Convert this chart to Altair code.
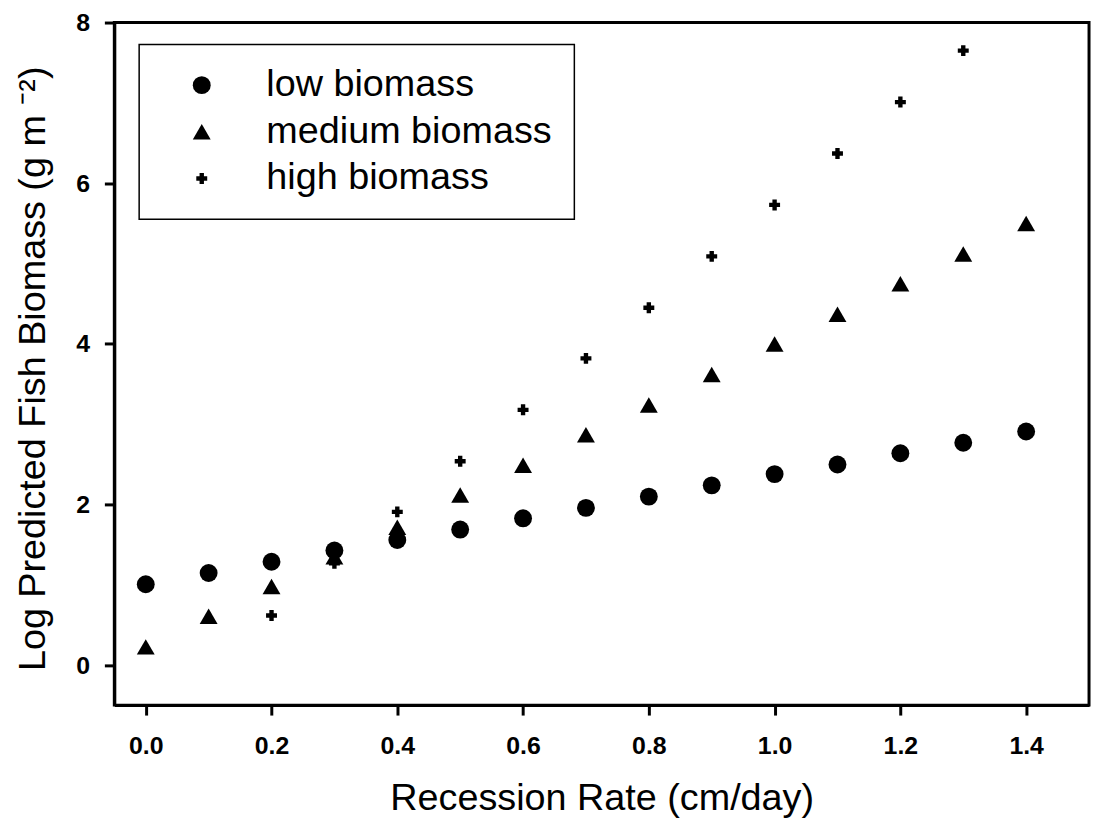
import altair as alt
import pandas as pd

rate = [0.0, 0.1, 0.2, 0.3, 0.4, 0.5, 0.6, 0.7, 0.8, 0.9, 1.0, 1.1, 1.2, 1.3, 1.4]
low = [1.01, 1.15, 1.29, 1.43, 1.56, 1.69, 1.83, 1.96, 2.10, 2.24, 2.38, 2.50, 2.64, 2.77, 2.91]
medium = [0.23, 0.61, 0.98, 1.35, 1.72, 2.12, 2.49, 2.87, 3.24, 3.62, 4.00, 4.37, 4.75, 5.12, 5.50]
high_rate = [0.2, 0.3, 0.4, 0.5, 0.6, 0.7, 0.8, 0.9, 1.0, 1.1, 1.2, 1.3]
high = [0.62, 1.27, 1.91, 2.54, 3.18, 3.82, 4.45, 5.09, 5.73, 6.37, 7.01, 7.65]

series = ["low biomass", "medium biomass", "high biomass"]
x_ticks = [0.0, 0.2, 0.4, 0.6, 0.8, 1.0, 1.2, 1.4]
y_ticks = [0, 2, 4, 6, 8]

rows = []
for r, v in zip(rate, low):
    rows.append({"rate": r, "value": v, "series": series[0]})
for r, v in zip(rate, medium):
    rows.append({"rate": r, "value": v, "series": series[1]})
for r, v in zip(high_rate, high):
    rows.append({"rate": r, "value": v, "series": series[2]})
df = pd.DataFrame(rows)

FONT = "Liberation Sans"

legend_props = dict(
    title=None,
    orient="none",
    legendX=25,
    legendY=22,
    strokeColor="black",
    fillColor="white",
    padding=22,
    symbolOffset=22,
    labelOffset=46,
    labelLimit=500,
    labelFont=FONT,
    labelFontSize=38,
    labelColor="black",
    symbolFillColor="black",
    symbolStrokeColor="black",
    symbolStrokeWidth=0,
)

chart = (
    alt.Chart(df)
    .mark_point(filled=True, opacity=1, color="black")
    .encode(
        x=alt.X(
            "rate:Q",
            scale=alt.Scale(domain=[-0.05, 1.5], nice=False, zero=False),
            axis=alt.Axis(
                values=x_ticks,
                format=".1f",
                title="Recession Rate (cm/day)",
                labelPadding=19,
                titleY=105,
                titleBaseline="alphabetic",
            ),
        ),
        y=alt.Y(
            "value:Q",
            scale=alt.Scale(domain=[-0.495, 8], nice=False, zero=False),
            axis=alt.Axis(
                values=y_ticks,
                format="d",
                title="Log Predicted Fish Biomass (g m \u207b\u00b2)",
                labelPadding=15,
                titleX=-70,
                titleY=348,
                titleAngle=270,
                titleAlign="center",
                titleBaseline="alphabetic",
            ),
        ),
        shape=alt.Shape(
            "series:N",
            sort=series,
            scale=alt.Scale(type="ordinal", domain=series, range=["circle", "triangle-up", "cross"]),
            legend=alt.Legend(**legend_props),
        ),
        size=alt.Size(
            "series:N",
            sort=series,
            scale=alt.Scale(type="ordinal", domain=series, range=[324, 324, 121]),
            legend=alt.Legend(**legend_props),
        ),
    )
    .properties(
        width=981,
        height=687,
        autosize=alt.AutoSizeParams(type="none"),
        padding={"left": 107, "top": 12, "right": 4, "bottom": 116},
    )
    .configure_view(stroke="black", strokeWidth=3)
    .configure_legend(rowPadding=9, strokeWidth=1.5)
    .configure_axis(
        grid=False,
        domainColor="black",
        domainWidth=3,
        tickColor="black",
        tickWidth=3,
        tickSize=10,
        labelFont=FONT,
        labelFontSize=25,
        labelFontWeight="bold",
        labelColor="black",
        titleFont=FONT,
        titleFontSize=38,
        titleFontWeight="normal",
        titleColor="black",
    )
)

chart.save("out.html", embed_options={"renderer": "svg", "actions": False})
